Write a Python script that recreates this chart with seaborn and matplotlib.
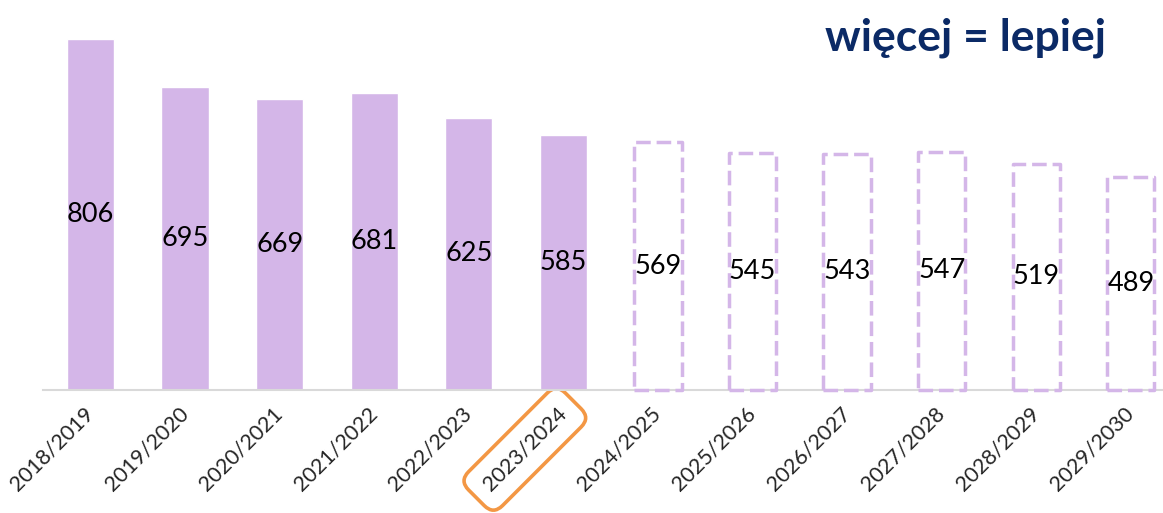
import matplotlib
matplotlib.use("Agg")
import matplotlib.pyplot as plt
import seaborn as sns
import pandas as pd

# data
years = ['2018/2019', '2019/2020', '2020/2021', '2021/2022', '2022/2023', '2023/2024',
         '2024/2025', '2025/2026', '2026/2027', '2027/2028', '2028/2029', '2029/2030']
values = [806, 695, 669, 681, 625, 585, 569, 545, 543, 547, 519, 489]
n_actual = 6
highlight = '2023/2024'

df = pd.DataFrame({'year': years, 'value': values})

sns.set_style('white')
plt.rcParams['font.family'] = ['Lato', 'DejaVu Sans']

lilac = '#d4b6e8'
navy = '#0b2a66'
orange = '#f39744'

fig = plt.figure(figsize=(11.63, 5.13), dpi=100)
ax = fig.add_axes([0.0, 0.2398, 1.0, 0.7602])

sns.barplot(data=df, x='year', y='value', color=lilac, saturation=1, width=0.5, ax=ax)

# projected years: dashed outline only
for i, p in enumerate(ax.patches):
    if i >= n_actual:
        p.set_facecolor('none')
        p.set_edgecolor(lilac)
        p.set_linestyle((0, (4.2, 1.7)))
        p.set_linewidth(2.5)
        p.set_joinstyle('round')
        p.set_zorder(3)
        p.set_clip_on(False)
    # value label in the middle of the bar
    h = p.get_height()
    ax.text(p.get_x() + p.get_width() / 2, h / 2, str(int(h)),
            ha='center', va='center', fontsize=19.5, color='black', zorder=4)

ax.set_xlim(-0.957, 11.34)
ax.set_ylim(0, 895.5)
ax.set_xlabel('')
ax.set_ylabel('')
ax.set_yticks([])
for s in ['top', 'right', 'left']:
    ax.spines[s].set_visible(False)
ax.spines['bottom'].set_color('#d9d9d9')
ax.spines['bottom'].set_linewidth(1.5)
ax.spines['bottom'].set_bounds(-0.5, 11.34)

ax.tick_params(axis='x', length=0, pad=15)
for lbl in ax.get_xticklabels():
    lbl.set_rotation(45)
    lbl.set_ha('right')
    lbl.set_va('center')
    lbl.set_rotation_mode('anchor')
    lbl.set_fontsize(15.5)
    if lbl.get_text() == highlight:
        lbl.set_bbox(dict(boxstyle='round,pad=0.65,rounding_size=0.6', fc='none',
                          ec=orange, lw=2.6))

fig.text(0.8306, 0.926, 'więcej = lepiej', ha='center', va='center',
         fontsize=32, fontweight='bold', color=navy)

fig.savefig('out.png', dpi=100)
